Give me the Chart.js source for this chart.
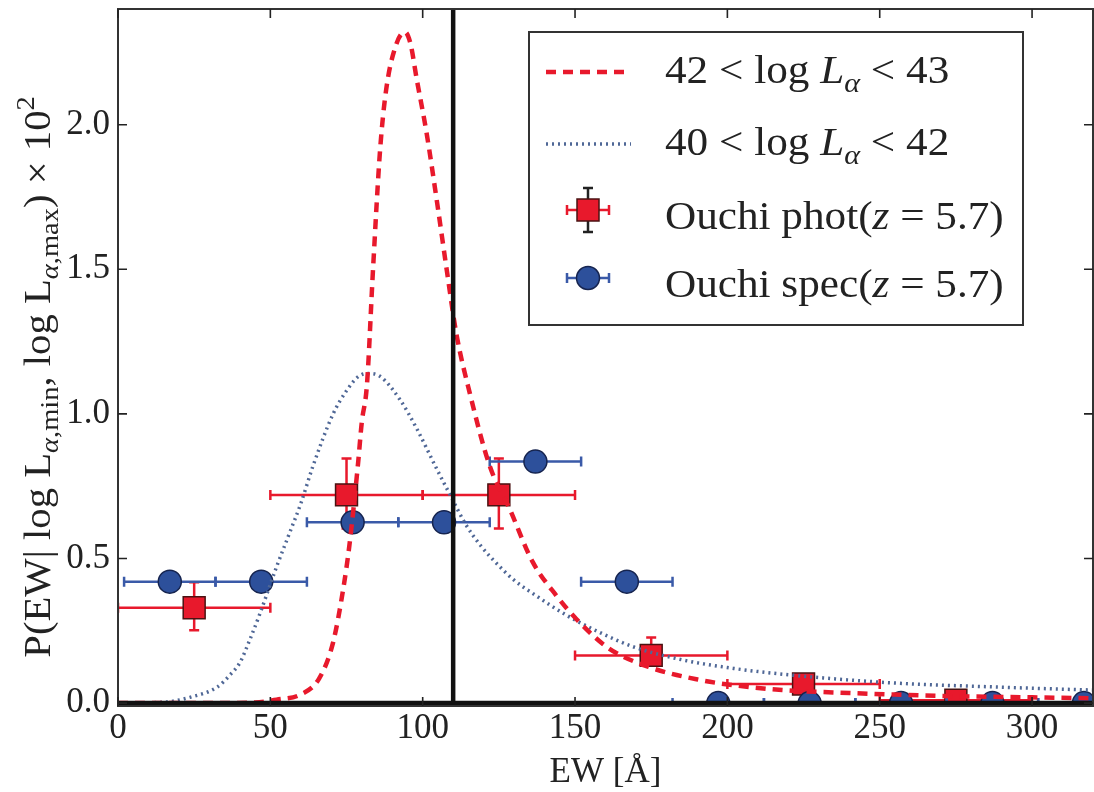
<!DOCTYPE html>
<html><head><meta charset="utf-8">
<script src="https://cdn.jsdelivr.net/npm/chart.js@4.4.1/dist/chart.umd.min.js"></script>
<style>html,body{margin:0;padding:0;background:#fff;}#wrap{width:1094px;height:792px;}</style>
</head><body><div id="wrap"><canvas id="c" width="1094" height="792"></canvas></div>
<script>
// ---- data ----
const xTicks = [0, 50, 100, 150, 200, 250, 300];
const yTicks = [0, 0.5, 1.0, 1.5, 2.0];

// model curve 42 < log L < 43 (red dashed)
const ewRed = [0, 30, 45, 52, 60, 66, 70.6, 74, 76, 78.8, 80, 81.7, 83.7, 86, 88, 91.4, 94.2, 96, 98, 101.3, 104.6, 108, 111, 115.5, 122, 128.6, 136, 144, 150.5, 161, 174.5, 191, 202, 218, 240, 270, 300, 320];
const pRed  = [0, 0, 0.002, 0.012, 0.03, 0.085, 0.21, 0.40, 0.55, 0.83, 0.97, 1.1, 1.5, 1.91, 2.12, 2.28, 2.32, 2.28, 2.16, 1.97, 1.74, 1.49, 1.28, 1.07, 0.82, 0.67, 0.49, 0.37, 0.29, 0.19, 0.124, 0.08, 0.062, 0.045, 0.035, 0.025, 0.02, 0.017];

// model curve 40 < log L < 42 (blue dotted)
const ewBlue = [0, 15, 23.6, 32.5, 37, 40, 43.3, 46.6, 52, 56, 60, 64, 70.6, 75, 79, 82, 86, 92.5, 98, 104.6, 109, 114, 119, 125, 130, 136, 147, 158, 169, 185, 202, 221, 254, 290, 320];
const pBlue  = [0, 0.003, 0.02, 0.055, 0.1, 0.14, 0.22, 0.31, 0.47, 0.58, 0.69, 0.82, 1.0, 1.08, 1.13, 1.14, 1.13, 1.05, 0.95, 0.81, 0.72, 0.62, 0.545, 0.475, 0.425, 0.38, 0.305, 0.245, 0.195, 0.15, 0.12, 0.097, 0.07, 0.055, 0.045];

// Ouchi phot (z = 5.7)
const photEW   = [25, 75, 125, 175, 225, 275];
const photEWLo = [0, 50, 100, 150, 200, 250];
const photEWHi = [50, 100, 150, 200, 250, 300];
const photP    = [0.33, 0.72, 0.72, 0.165, 0.066, 0.01];
const photPLo  = [0.252, 0.604, 0.604, 0.14, 0.06, 0.005];
const photPHi  = [0.418, 0.846, 0.846, 0.227, 0.072, 0.015];

// Ouchi spec (z = 5.7)
const specEW   = [17, 47, 77, 107, 137, 167, 197, 227, 257, 287, 317];
const specEWLo = [2, 32, 62, 92, 122, 152, 182, 212, 242, 272, 302];
const specEWHi = [32, 62, 92, 122, 152, 182, 212, 242, 272, 302, 332];
const specP    = [0.42, 0.42, 0.625, 0.625, 0.835, 0.42, 0, 0, 0, 0, 0];

const cutEW = 110;
const xRange = [0, 320];
const yRange = [-0.01, 2.4];

const seriesNames = ['42 < log Lα < 43', '40 < log Lα < 42', 'Ouchi phot(z = 5.7)', 'Ouchi spec(z = 5.7)'];
const xTitle = 'EW [Å]';

// ---- styles ----
const FONT = '"Liberation Serif", "Times New Roman", serif';
const RED = '#e8192c', RED_EDGE = '#4a1212';
const BLUE = '#2d509b', BLUE_EDGE = '#16244f', BLUE_BAR = '#3a5aa8';
const BLUE_LINE = '#4f6796';
const INK = '#222';

const zip = (xs, ys) => xs.map((x, i) => ({x: x, y: ys[i]}));

function drawRuns(ctx, runs, x, y, size) {
  let cx = x;
  for (const r of runs) {
    const small = r.sub || r.sup;
    const s = small ? size * 0.7 : size;
    ctx.font = (r.it ? 'italic ' : '') + s + 'px ' + FONT;
    const dy = r.sub ? size * 0.22 : (r.sup ? -size * 0.42 : 0);
    ctx.fillText(r.t, cx, y + dy);
    cx += ctx.measureText(r.t).width;
  }
  return cx - x;
}
function runsWidth(ctx, runs, size) {
  let w = 0;
  for (const r of runs) {
    const s = (r.sub || r.sup) ? size * 0.7 : size;
    ctx.font = (r.it ? 'italic ' : '') + s + 'px ' + FONT;
    w += ctx.measureText(r.t).width;
  }
  return w;
}

function errBars(ctx, xs, xLo, xHi, ys, yLo, yHi, sx, sy, color, cap) {
  ctx.strokeStyle = color; ctx.lineWidth = 2.5;
  for (let i = 0; i < xs.length; i++) {
    const px = sx.getPixelForValue(xs[i]), py = sy.getPixelForValue(ys[i]);
    const a = sx.getPixelForValue(xLo[i]), b = sx.getPixelForValue(xHi[i]);
    ctx.beginPath();
    ctx.moveTo(a, py); ctx.lineTo(b, py);
    ctx.moveTo(a, py - cap); ctx.lineTo(a, py + cap);
    ctx.moveTo(b, py - cap); ctx.lineTo(b, py + cap);
    if (yLo) {
      const c = sy.getPixelForValue(yLo[i]), d = sy.getPixelForValue(yHi[i]);
      ctx.moveTo(px, c); ctx.lineTo(px, d);
      ctx.moveTo(px - cap, c); ctx.lineTo(px + cap, c);
      ctx.moveTo(px - cap, d); ctx.lineTo(px + cap, d);
    }
    ctx.stroke();
  }
}

const decor = {
  id: 'decor',
  beforeDatasetDraw(chart, args) {
    const ctx = chart.ctx, a = chart.chartArea, sx = chart.scales.x, sy = chart.scales.y;
    ctx.save();
    ctx.beginPath(); ctx.rect(a.left, a.top, a.right - a.left, a.bottom - a.top); ctx.clip();
    if (args.index === 2) errBars(ctx, photEW, photEWLo, photEWHi, photP, photPLo, photPHi, sx, sy, RED, 5);
    if (args.index === 3) errBars(ctx, specEW, specEWLo, specEWHi, specP, null, null, sx, sy, BLUE_BAR, 5);
    ctx.restore();
  },
  afterDatasetsDraw(chart) {
    const ctx = chart.ctx, a = chart.chartArea, sx = chart.scales.x, sy = chart.scales.y;
    ctx.save();
    ctx.strokeStyle = '#333'; ctx.lineWidth = 2;
    ctx.strokeRect(a.left, a.top, a.right - a.left, a.bottom - a.top);
    ctx.lineWidth = 1.6; ctx.strokeStyle = INK;
    ctx.beginPath();
    for (const v of xTicks) {
      const p = sx.getPixelForValue(v);
      ctx.moveTo(p, a.bottom); ctx.lineTo(p, a.bottom - 9);
      ctx.moveTo(p, a.top); ctx.lineTo(p, a.top + 9);
    }
    for (const v of yTicks) {
      const p = sy.getPixelForValue(v);
      ctx.moveTo(a.left, p); ctx.lineTo(a.left + 9, p);
      ctx.moveTo(a.right, p); ctx.lineTo(a.right - 9, p);
    }
    ctx.stroke();
    ctx.restore();
  },
  afterDraw(chart) {
    const ctx = chart.ctx, a = chart.chartArea;
    ctx.save();
    ctx.fillStyle = INK; ctx.textBaseline = 'alphabetic'; ctx.textAlign = 'left';
    // x title
    const xs = 35;
    ctx.font = xs + 'px ' + FONT;
    const xw = ctx.measureText(xTitle).width;
    ctx.fillText(xTitle, (a.left + a.right) / 2 - xw / 2, 782);
    // y title
    const yRuns = [
      {t: 'P(EW| log L'}, {t: 'α', it: true, sub: true}, {t: ',min', sub: true},
      {t: ', log L'}, {t: 'α', it: true, sub: true}, {t: ',max', sub: true},
      {t: ') × 10'}, {t: '2', sup: true}
    ];
    const ys = 37;
    const yw = runsWidth(ctx, yRuns, ys);
    ctx.save();
    ctx.translate(50, 377); ctx.rotate(-Math.PI / 2); ctx.scale(1.1, 1);
    drawRuns(ctx, yRuns, -yw / 2, 0, ys);
    ctx.restore();

    // legend
    const L = {x0: 529, y0: 32, x1: 1023, y1: 325};
    ctx.fillStyle = '#fff';
    ctx.fillRect(L.x0, L.y0, L.x1 - L.x0, L.y1 - L.y0);
    ctx.strokeStyle = '#333'; ctx.lineWidth = 2;
    ctx.strokeRect(L.x0, L.y0, L.x1 - L.x0, L.y1 - L.y0);
    const rows = [72, 144, 210, 278];
    const base = [83, 155, 229, 297];
    // red dashed sample
    ctx.lineWidth = 4.5; ctx.strokeStyle = RED; ctx.setLineDash([10, 7]);
    ctx.beginPath(); ctx.moveTo(546, rows[0]); ctx.lineTo(631, rows[0]); ctx.stroke();
    ctx.lineWidth = 3.5; ctx.strokeStyle = BLUE_LINE; ctx.setLineDash([2, 4]);
    ctx.beginPath(); ctx.moveTo(546, rows[1]); ctx.lineTo(631, rows[1]); ctx.stroke();
    ctx.setLineDash([]);
    // phot sample
    const mx = 588;
    ctx.strokeStyle = RED; ctx.lineWidth = 2.5;
    ctx.beginPath();
    ctx.moveTo(567, rows[2]); ctx.lineTo(609, rows[2]);
    ctx.moveTo(567, rows[2] - 5); ctx.lineTo(567, rows[2] + 5);
    ctx.moveTo(609, rows[2] - 5); ctx.lineTo(609, rows[2] + 5);
    ctx.stroke();
    ctx.strokeStyle = INK;
    ctx.beginPath();
    ctx.moveTo(mx, rows[2] - 22); ctx.lineTo(mx, rows[2] + 22);
    ctx.moveTo(mx - 5, rows[2] - 22); ctx.lineTo(mx + 5, rows[2] - 22);
    ctx.moveTo(mx - 5, rows[2] + 22); ctx.lineTo(mx + 5, rows[2] + 22);
    ctx.stroke();
    ctx.fillStyle = RED; ctx.strokeStyle = RED_EDGE; ctx.lineWidth = 1.5;
    ctx.fillRect(mx - 11, rows[2] - 11, 22, 22); ctx.strokeRect(mx - 11, rows[2] - 11, 22, 22);
    // spec sample
    ctx.strokeStyle = BLUE_BAR; ctx.lineWidth = 2.5;
    ctx.beginPath();
    ctx.moveTo(567, rows[3]); ctx.lineTo(609, rows[3]);
    ctx.moveTo(567, rows[3] - 5); ctx.lineTo(567, rows[3] + 5);
    ctx.moveTo(609, rows[3] - 5); ctx.lineTo(609, rows[3] + 5);
    ctx.stroke();
    ctx.fillStyle = BLUE; ctx.strokeStyle = BLUE_EDGE; ctx.lineWidth = 1.5;
    ctx.beginPath(); ctx.arc(mx, rows[3], 11.5, 0, Math.PI * 2); ctx.fill(); ctx.stroke();
    // legend text
    ctx.fillStyle = INK;
    const ls = 40;
    const lRuns = [
      [{t: '42 < log '}, {t: 'L', it: true}, {t: 'α', it: true, sub: true}, {t: ' < 43'}],
      [{t: '40 < log '}, {t: 'L', it: true}, {t: 'α', it: true, sub: true}, {t: ' < 42'}],
      [{t: 'Ouchi phot('}, {t: 'z', it: true}, {t: ' = 5.7)'}],
      [{t: 'Ouchi spec('}, {t: 'z', it: true}, {t: ' = 5.7)'}]
    ];
    lRuns.forEach((r, i) => {
      ctx.save(); ctx.translate(665, base[i]); ctx.scale(1.08, 1);
      drawRuns(ctx, r, 0, 0, ls);
      ctx.restore();
    });
    ctx.restore();
  }
};

const ticksFont = {family: FONT, size: 35};
new Chart(document.getElementById('c'), {
  type: 'scatter',
  data: {
    datasets: [
      {label: seriesNames[0], type: 'line', data: zip(ewRed, pRed), borderColor: RED, borderWidth: 4.5, borderDash: [10, 7],
       pointRadius: 0, cubicInterpolationMode: 'monotone', fill: false, order: 3, clip: 0},
      {label: seriesNames[1], type: 'line', data: zip(ewBlue, pBlue), borderColor: BLUE_LINE, borderWidth: 3.5, borderDash: [2, 4],
       pointRadius: 0, cubicInterpolationMode: 'monotone', fill: false, order: 4, clip: 0},
      {label: seriesNames[2], data: zip(photEW, photP), pointStyle: 'rect', pointRadius: 15.5, backgroundColor: RED,
       borderColor: RED_EDGE, borderWidth: 1.5, order: 6, clip: 0},
      {label: seriesNames[3], data: zip(specEW, specP), pointStyle: 'circle', pointRadius: 11.5, backgroundColor: BLUE,
       borderColor: BLUE_EDGE, borderWidth: 1.5, order: 5, clip: 0},
      {label: 'y = 0', type: 'line', data: zip(xRange, [0, 0]), borderColor: '#111', borderWidth: 4.5, pointRadius: 0, order: 1, clip: 0},
      {label: 'EW cut', type: 'line', data: zip([cutEW, cutEW], yRange), borderColor: '#111', borderWidth: 4.5, pointRadius: 0, order: 1, clip: 0}
    ]
  },
  options: {
    responsive: false, animation: false, devicePixelRatio: 1,
    layout: {autoPadding: false, padding: {top: 9, right: 1, left: 0, bottom: 0}},
    plugins: {legend: {display: false}, tooltip: {enabled: false}},
    scales: {
      x: {type: 'linear', min: xRange[0], max: xRange[1],
          afterBuildTicks: s => { s.ticks = xTicks.map(v => ({value: v})); },
          afterFit: s => { s.height = 86; s.paddingLeft = 0; s.paddingRight = 0; },
          grid: {display: false, drawTicks: false}, border: {display: false},
          ticks: {font: ticksFont, color: INK, padding: 2, maxRotation: 0, autoSkip: false, callback: v => String(v)}},
      y: {type: 'linear', min: yRange[0], max: yRange[1],
          afterBuildTicks: s => { s.ticks = yTicks.map(v => ({value: v})); },
          afterFit: s => { s.width = 118; s.paddingTop = 0; s.paddingBottom = 0; },
          grid: {display: false, drawTicks: false}, border: {display: false},
          ticks: {font: ticksFont, color: INK, padding: 8, autoSkip: false, callback: v => v.toFixed(1)}}
    }
  },
  plugins: [decor]
});
</script></body></html>
